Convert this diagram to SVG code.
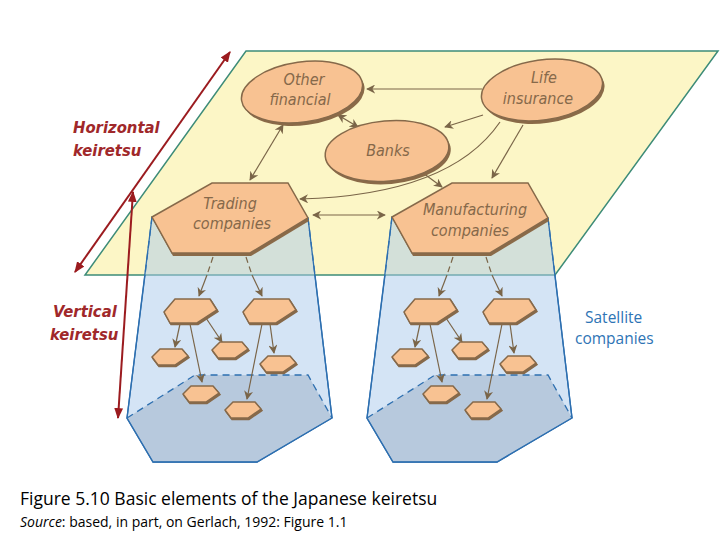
<svg xmlns="http://www.w3.org/2000/svg" width="720" height="540" viewBox="0 0 720 540">
<style>
.nd{fill:#f8c292;stroke:#86694a;stroke-width:1.5}
.sh{fill:#8a6a48}
.lb{font-family:"DejaVu Sans Condensed","DejaVu Sans",sans-serif;font-style:italic;font-size:16px;fill:#86694a;text-anchor:middle}
.ar{stroke:#7a6548;stroke-width:1.2;fill:none;marker-end:url(#ah)}
.ad{stroke:#7a6548;stroke-width:1.2;fill:none;marker-end:url(#ah);marker-start:url(#ahs)}
.ds{stroke:#7a6548;stroke-width:1.2;fill:none;stroke-dasharray:6 4}
.red{stroke:#9b1b1f;stroke-width:2;fill:none;marker-end:url(#rh);marker-start:url(#rhs)}
.rt{font-family:"DejaVu Sans Condensed","DejaVu Sans",sans-serif;font-weight:bold;font-style:italic;font-size:16.5px;fill:#a0282a}
.box{fill:#a9c9ec;fill-opacity:0.5;stroke:#2d6fb0;stroke-width:1.3}
.bot{fill:#9fb3c8;fill-opacity:0.55;stroke:none}
.dsh{stroke:#2d6fb0;stroke-width:1.3;stroke-dasharray:7 5;fill:none}
</style>
<defs>
<marker id="ah" viewBox="0 0 10 10" refX="9" refY="5" markerWidth="9" markerHeight="9" orient="auto" markerUnits="userSpaceOnUse"><path d="M0,0L10,5L0,10L3,5z" fill="#7a6548"/></marker>
<marker id="ahs" viewBox="0 0 10 10" refX="1" refY="5" markerWidth="9" markerHeight="9" orient="auto" markerUnits="userSpaceOnUse"><path d="M10,0L0,5L10,10L7,5z" fill="#7a6548"/></marker>
<marker id="rh" viewBox="0 0 10 10" refX="9" refY="5" markerWidth="11" markerHeight="11" orient="auto" markerUnits="userSpaceOnUse"><path d="M0,1L10,5L0,9z" fill="#9b1b1f"/></marker>
<marker id="rhs" viewBox="0 0 10 10" refX="1" refY="5" markerWidth="11" markerHeight="11" orient="auto" markerUnits="userSpaceOnUse"><path d="M10,1L0,5L10,9z" fill="#9b1b1f"/></marker>
<g id="big"><path d="M-26,1L-15,-12L20,-12L27,-1L7,12L-20,12z" class="nd" transform="translate(1,1.5)" style="fill:#8a6a48"/><path d="M-26,1L-15,-12L20,-12L27,-1L7,12L-20,12z" class="nd"/></g>
<g id="sm"><path d="M-18,0L-10,-8L12,-8L18,-1L5,8L-12,8z" class="nd" transform="translate(1,1.5)" style="fill:#8a6a48"/><path d="M-18,0L-10,-8L12,-8L18,-1L5,8L-12,8z" class="nd"/></g>
</defs>
<rect width="720" height="540" fill="#fff"/>
<g id="plane"><path d="M246,51L718,51L555,275L85,275z" fill="#fcf6c6" stroke="#3d8c78" stroke-width="1.5"/></g>
<g id="box-left">
<path d="M152,217L308,218L332,418L257,462L153,462L127,418z" class="box" stroke="none"/>
<path d="M127,418L195,375L308,375L332,418L257,462L153,462z" class="bot"/>
<path d="M145,275L127,418L153,462L257,462L332,418L315,275" class="box" style="fill:none"/>
<path d="M152,217L145,275M308,218L315,275M127,418L195,375L308,375L332,418" class="dsh"/>
</g>
<g id="box-right">
<path d="M392,217L548,218L572,418L497,462L393,462L367,418z" class="box" stroke="none"/>
<path d="M367,418L435,375L548,375L572,418L497,462L393,462z" class="bot"/>
<path d="M385,275L367,418L393,462L497,462L572,418L555,275" class="box" style="fill:none"/>
<path d="M392,217L385,275M548,218L555,275M367,418L435,375L548,375L572,418" class="dsh"/>
</g>
<g id="connectors">
<path class="ar" d="M482,89L367,89"/>
<path class="ar" d="M483,115L445,127"/>
<path class="ar" d="M500,122Q450,195 300,199"/>
<path class="ar" d="M523,125L492,178"/>
<path class="ad" d="M338,115L358,127"/>
<path class="ad" d="M283,125L250,180"/>
<path class="ar" d="M423,173L442,187"/>
<path class="ad" d="M313,215L385,215"/>
<g id="sub-left">
<path class="ds" d="M213,257L207,275"/><path class="ar" d="M207,275L199,296"/>
<path class="ds" d="M246,257L252,275"/><path class="ar" d="M252,275L262,296"/>
<path class="ar" d="M180,324L175,347"/><path class="ar" d="M206,318L222,342"/><path class="ar" d="M190,324L202,382"/>
<path class="ar" d="M270,324L274,353"/><path class="ar" d="M262,324L247,399"/>
</g>
<use href="#sub-left" x="240"/>
</g>
<g id="n-other"><ellipse cx="304" cy="95" rx="61" ry="30" class="sh" transform="rotate(-8 304 95)"/><ellipse cx="302" cy="92" rx="61" ry="30" class="nd" transform="rotate(-8 302 92)"/><text class="lb" x="304" y="85">Other</text><text class="lb" x="300" y="105">financial</text></g>
<g id="n-life"><ellipse cx="544" cy="93" rx="61" ry="30" class="sh" transform="rotate(-8 544 93)"/><ellipse cx="542" cy="90" rx="61" ry="30" class="nd" transform="rotate(-8 542 90)"/><text class="lb" x="544" y="83">Life</text><text class="lb" x="538" y="104">insurance</text></g>
<g id="n-banks"><ellipse cx="389" cy="154" rx="62" ry="30" class="sh" transform="rotate(-5 389 154)"/><ellipse cx="387" cy="151" rx="62" ry="30" class="nd" transform="rotate(-5 387 151)"/><text class="lb" x="388" y="156">Banks</text></g>
<g id="n-trading"><path d="M153,220L213,186L289,186L309,221L251,256L173,256z" class="sh"/><path d="M152,217L212,183L288,183L308,218L250,253L172,253z" class="nd"/><text class="lb" x="230" y="209">Trading</text><text class="lb" x="232" y="229">companies</text></g>
<g id="n-manu"><path d="M393,220L453,186L529,186L549,221L491,256L413,256z" class="sh"/><path d="M392,217L452,183L528,183L548,218L490,253L412,253z" class="nd"/><text class="lb" x="475" y="215">Manufacturing</text><text class="lb" x="470" y="236">companies</text></g>
<g id="sat-left">
<use href="#big" x="190" y="311"/><use href="#big" x="269" y="311"/>
<use href="#sm" x="170" y="357"/><use href="#sm" x="230" y="350"/><use href="#sm" x="278" y="364"/><use href="#sm" x="201" y="394"/><use href="#sm" x="243" y="410"/>
</g>
<g id="sat-right"><use href="#sat-left" x="240"/></g>
<g id="labels">
<path class="red" d="M75,272L230,52"/>
<text class="rt" x="73" y="133">Horizontal</text><text class="rt" x="73" y="156">keiretsu</text>
<path class="red" d="M133,192L118,418"/>
<text class="rt" x="53" y="317">Vertical</text><text class="rt" x="50" y="340">keiretsu</text>
<text x="585" y="323" font-family="'Open Sans',sans-serif" font-size="15.5" fill="#2e74b5">Satellite</text>
<text x="575" y="344" font-family="'Open Sans',sans-serif" font-size="15.5" fill="#2e74b5">companies</text>
<text x="20" y="505" font-family="'Open Sans',sans-serif" font-size="17.5" fill="#000">Figure 5.10 Basic elements of the Japanese keiretsu</text>
<text x="20" y="527" font-family="'Open Sans',sans-serif" font-size="14" fill="#000"><tspan font-style="italic">Source</tspan>: based, in part, on Gerlach, 1992: Figure 1.1</text>
</g>
</svg>
